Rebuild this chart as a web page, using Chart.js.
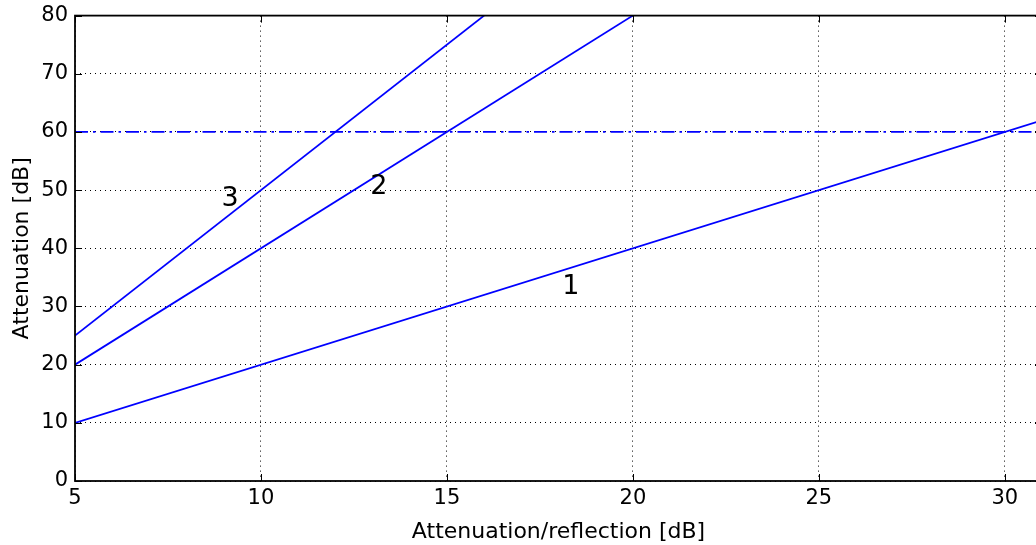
<!DOCTYPE html>
<html><head><meta charset="utf-8">
<script src="https://cdn.jsdelivr.net/npm/chart.js@4.4.0/dist/chart.umd.min.js"></script>
<style>html,body{margin:0;padding:0;overflow:hidden;background:#fff}#wrap{width:1060px;height:545px}</style>
</head><body><div id="wrap"><canvas id="c" width="1060" height="545"></canvas></div>
<script>
const line1X = [5, 31], line1Y = [10, 62];
const line2X = [5, 20], line2Y = [20, 80];
const line3X = [5, 16], line3Y = [25, 80];
const refX = [5, 31], refY = [60, 60];
const labels = ['1', '2', '3'];
const labelX = [18.33, 13.17, 9.17];
const labelY = [33.4, 50.5, 48.5];
const xTicks = [5, 10, 15, 20, 25, 30];
const yTicks = [0, 10, 20, 30, 40, 50, 60, 70, 80];
const FONT = "'DejaVu Sans', sans-serif";

function pts(xs, ys){ return xs.map((x,i)=>({x, y: ys[i]})); }

const inwardTicks = {
  id: 'inwardTicks',
  afterDraw(chart){
    const {ctx, chartArea: a, scales: {x, y}} = chart;
    ctx.save();
    ctx.strokeStyle = '#000'; ctx.lineWidth = 1;
    ctx.beginPath();
    xTicks.forEach(v => { const p = Math.round(x.getPixelForValue(v)) + 0.5;
      ctx.moveTo(p, a.bottom); ctx.lineTo(p, a.bottom - 7);
      ctx.moveTo(p, a.top); ctx.lineTo(p, a.top + 7); });
    yTicks.forEach(v => { const p = Math.round(y.getPixelForValue(v)) + 0.5;
      ctx.moveTo(a.left, p); ctx.lineTo(a.left + 7, p);
      ctx.moveTo(a.right, p); ctx.lineTo(a.right - 7, p); });
    ctx.stroke();
    ctx.lineWidth = 1.8;
    ctx.strokeRect(a.left, a.top, a.right - a.left, a.bottom - a.top);
    ctx.fillStyle = '#000'; ctx.font = '27px ' + FONT;
    ctx.textAlign = 'center'; ctx.textBaseline = 'middle';
    labels.forEach((t,i) => ctx.fillText(t, x.getPixelForValue(labelX[i]), y.getPixelForValue(labelY[i])));
    ctx.restore();
  }
};

const ds = (data, dash) => ({data, borderColor:'#0000ff', borderWidth:1.8, pointRadius:0, borderDash: dash||[], fill:false, tension:0});

new Chart(document.getElementById('c'), {
  type: 'line',
  data: { datasets: [ ds(pts(line1X,line1Y)), ds(pts(line2X,line2Y)), ds(pts(line3X,line3Y)), ds(pts(refX,refY),[13,5,2.5,5]) ] },
  options: {
    responsive:false, animation:false,
    layout:{padding:{top:0,right:18,left:0,bottom:0}},
    plugins:{legend:{display:false}, tooltip:{enabled:false}},
    scales:{
      x:{type:'linear', min:5, max:31,
        afterBuildTicks: s => { s.ticks = xTicks.map(v=>({value:v})); },
        afterFit: s => { s.height = 64; },
        ticks:{color:'#000', font:{family:FONT,size:21}, padding:5, maxRotation:0},
        grid:{color:'#000', lineWidth:1, drawTicks:false},
        border:{display:false, dash:[1,4]},
        title:{display:true, text:'Attenuation/reflection [dB]', color:'#000', font:{family:FONT,size:22}, padding:{top:0,bottom:0}}
      },
      y:{type:'linear', min:0, max:80,
        afterBuildTicks: s => { s.ticks = yTicks.map(v=>({value:v})); },
        afterFit: s => { s.width = 75; },
        ticks:{color:'#000', font:{family:FONT,size:21, lineHeight:0.82}, padding:7},
        grid:{color:'#000', lineWidth:1, drawTicks:false},
        border:{display:false, dash:[1,4]},
        title:{display:true, text:'Attenuation [dB]', color:'#000', font:{family:FONT,size:22}, padding:{top:9,bottom:4}}
      }
    }
  },
  plugins:[inwardTicks]
});
</script></body></html>
